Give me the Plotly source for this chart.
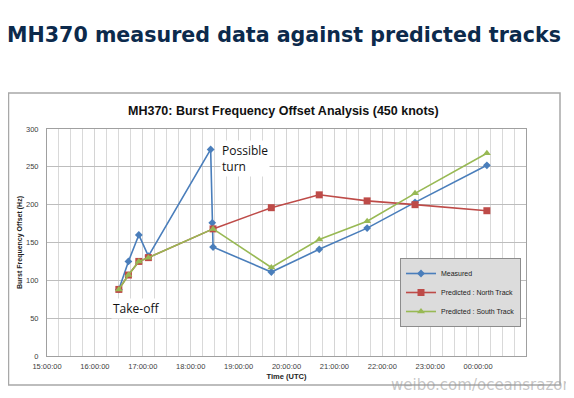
import plotly.graph_objects as go

# ---- data ----
measured_times = ["2014-03-07 16:30", "2014-03-07 16:42", "2014-03-07 16:55", "2014-03-07 17:07",
                  "2014-03-07 18:25", "2014-03-07 18:27", "2014-03-07 18:28", "2014-03-07 19:41",
                  "2014-03-07 20:41", "2014-03-07 21:41", "2014-03-07 22:41", "2014-03-08 00:11"]
measured_values = [88, 125, 160, 132, 273, 176, 144, 111, 141, 169, 203, 252]

predicted_times = ["2014-03-07 16:30", "2014-03-07 16:42", "2014-03-07 16:55", "2014-03-07 17:07",
                   "2014-03-07 18:28", "2014-03-07 19:41", "2014-03-07 20:41", "2014-03-07 21:41",
                   "2014-03-07 22:41", "2014-03-08 00:11"]
north_values = [88, 107, 125, 130, 168, 196, 213, 205, 200, 192]
south_values = [88, 107, 125, 130, 168, 117, 154, 178, 215, 268]

tick_vals = ["2014-03-07 15:00", "2014-03-07 16:00", "2014-03-07 17:00", "2014-03-07 18:00",
             "2014-03-07 19:00", "2014-03-07 20:00", "2014-03-07 21:00", "2014-03-07 22:00",
             "2014-03-07 23:00", "2014-03-08 00:00"]
tick_text = ["15:00:00", "16:00:00", "17:00:00", "18:00:00", "19:00:00", "20:00:00",
             "21:00:00", "22:00:00", "23:00:00", "00:00:00"]
x_range = ["2014-03-07 15:00", "2014-03-08 01:00"]

# page body has an 8px margin, so the figure is drawn at (8, 8)
OFF = 8
W, H = 574 - OFF, 398 - OFF
L, R, T, B = 47 - OFF, 526 - OFF, 129 - OFF, 356 - OFF


def fx(px):
    return (px - OFF - L) / (R - L)


def fy(py):
    return (B - (py - OFF)) / (B - T)


fig = go.Figure()
fig.add_trace(go.Scatter(x=measured_times, y=measured_values, name="Measured", mode="lines+markers",
                         line=dict(color="#4A7EBB", width=1.6),
                         marker=dict(symbol="diamond", size=6, color="#4A7EBB")))
fig.add_trace(go.Scatter(x=predicted_times, y=north_values, name="Predicted : North Track", mode="lines+markers",
                         line=dict(color="#BE4B48", width=1.6),
                         marker=dict(symbol="square", size=7, color="#BE4B48")))
fig.add_trace(go.Scatter(x=predicted_times, y=south_values, name="Predicted : South Track", mode="lines+markers",
                         line=dict(color="#98B954", width=1.6),
                         marker=dict(symbol="triangle-up", size=7, color="#98B954")))

fig.update_layout(
    width=W, height=H,
    margin=dict(l=L, r=W - R, t=T, b=H - B, autoexpand=False),
    paper_bgcolor="white", plot_bgcolor="white",
    showlegend=True,
    legend=dict(x=fx(400), y=fy(258), xanchor="left", yanchor="top",
                bgcolor="#DCDCDC", bordercolor="#8C8C8C", borderwidth=1,
                font=dict(family="Liberation Sans", size=7, color="#222"),
                tracegroupgap=0, itemwidth=30),
    xaxis=dict(type="date", range=x_range, tickvals=tick_vals, ticktext=tick_text, automargin=False,
               showgrid=True, gridcolor="#D4D4D4", gridwidth=1,
               minor=dict(dtick=900000, tick0="2014-03-07 15:00", showgrid=True, gridcolor="#D9D9D9"),
               showline=True, linecolor="#A0A0A0", mirror=True, zeroline=False,
               ticklabelstandoff=3,
               tickfont=dict(family="Liberation Sans", size=7.5, color="#404040"),
               title=dict(text="<b>Time (UTC)</b>", font=dict(family="Liberation Sans", size=7.5, color="#222"),
                          standoff=3)),
    yaxis=dict(range=[0, 300], dtick=50, showgrid=True, gridcolor="#BDBDBD", gridwidth=1, automargin=False,
               showline=True, linecolor="#A0A0A0", mirror=True, zeroline=False,
               ticklabelstandoff=6,
               tickfont=dict(family="Liberation Sans", size=7.5, color="#404040"),
               title=dict(text="<b>Burst Frequency Offset (Hz)</b>",
                          font=dict(family="Liberation Sans", size=7, color="#222"), standoff=2)),
    shapes=[dict(type="rect", xref="paper", yref="paper", x0=fx(OFF + 0.5), x1=fx(560), y0=fy(385), y1=fy(93),
                 line=dict(color="#A8A8A8", width=1.5), fillcolor="rgba(0,0,0,0)", layer="below")],
    annotations=[
        dict(text="<b>MH370 measured data against predicted tracks</b>", xref="paper", yref="paper",
             x=fx(284), y=fy(35), showarrow=False, xanchor="center", yanchor="middle",
             font=dict(family="DejaVu Sans", size=20.6, color="#0C2A4C")),
        dict(text="<b>MH370: Burst Frequency Offset Analysis (450 knots)</b>", xref="paper", yref="paper",
             x=fx(283), y=fy(111), showarrow=False, xanchor="center", yanchor="middle",
             font=dict(family="Liberation Sans", size=12.5, color="#111")),
        dict(text="Possible<br>turn", xref="paper", yref="paper", x=fx(220), y=fy(140),
             showarrow=False, xanchor="left", yanchor="top", align="left", bgcolor="white",
             font=dict(family="Open Sans", size=12, color="#111")),
        dict(text="Take-off", xref="paper", yref="paper", x=fx(111), y=fy(308),
             showarrow=False, xanchor="left", yanchor="middle", align="left", bgcolor="white",
             font=dict(family="Open Sans", size=12, color="#111")),
        dict(text="weibo.com/oceansrazor", xref="paper", yref="paper", x=fx(572), y=fy(385),
             showarrow=False, xanchor="right", yanchor="middle",
             font=dict(family="DejaVu Sans", size=15, color="rgba(150,150,150,0.55)")),
    ],
)

fig.write_html("out.html")
